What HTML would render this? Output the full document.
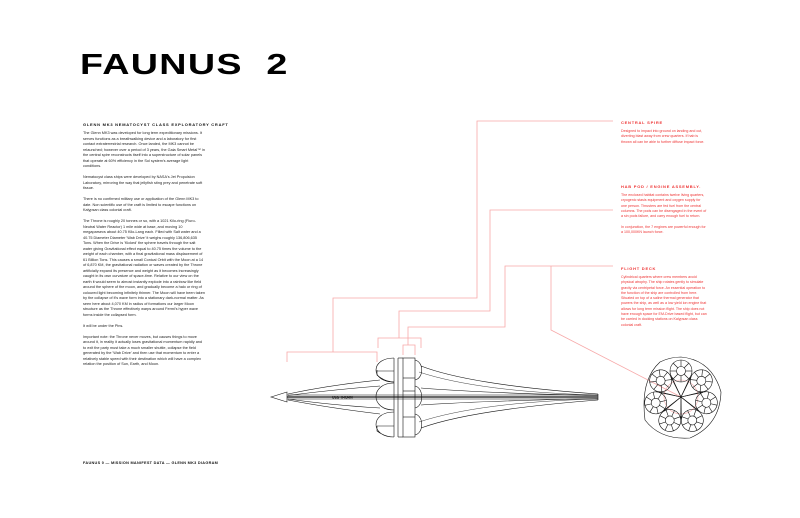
<!DOCTYPE html>
<html><head><meta charset="utf-8"><style>
*{margin:0;padding:0}
body{width:800px;height:518px;background:#fff;position:relative;overflow:hidden;font-family:"Liberation Sans",sans-serif}
.t{position:absolute;left:80px;top:49px;font-weight:bold;font-size:29px;letter-spacing:1px;transform:scaleX(1.3);transform-origin:left top;color:#000;white-space:pre}
.l{position:absolute;left:83px;width:122px;font-size:3.8px;line-height:5.5px;color:#222}
.h{position:absolute;font-size:4px;font-weight:bold;letter-spacing:0.75px;white-space:nowrap}
.r{position:absolute;left:621px;width:86px;font-size:3.6px;line-height:5.3px;color:#e33}
p{margin-bottom:5.5px}
</style></head><body>
<div class="t">FAUNUS  2</div>
<div class="h" style="left:83px;top:122px;color:#111">GLENN MK3 NEMATOCYST CLASS EXPLORATORY CRAFT</div>
<div class="l" style="top:131px">
<p>The Glenn MK3 was developed for long term expeditionary missions. It serves functions as a breathwalking device and a laboratory for first contact extraterrestrial research. Once landed, the MK3 cannot be relaunched; however over a period of 3 years, the Gaia Smart Metal™ in the central spire reconstructs itself into a superstructure of solar panels that operate at 60% efficiency in the Sol system's average light conditions.</p>
<p>Nematocyst class ships were developed by NASA's Jet Propulsion Laboratory, mirroring the way that jellyfish sting prey and penetrate soft tissue.</p>
<p>There is no confirmed military use or application of the Glenn MK3 to date. Non scientific use of the craft is limited to escape functions on Kalypsan class colonial craft.</p>
<p>The Throne is roughly 20 tonnes or so, with a 1021 Kilo-ring (Fluro-Neutral Water Reactor) 1 mile wide at base, and moving 10 megaparsecs about 40.75 Kilo-Lang each. Filled with Salt water and a 40.75 Diameter Diameter 'Wab Drive' it weighs roughly 136,806,635 Tons. When the Drive is 'Kicked' the sphere travels through the salt water giving Gravitational effect equal to 40.75 times the volume to the weight of each chamber, with a final gravitational mass displacement of 61 Billion Tons. This causes a small Conical Orbit with the Moon at a 14 of 6,870 KM, the gravitational radiation or waves created by the Throne artificially expand its presence and weight as it becomes increasingly caught in its own curvature of space-time. Relative to our view on the earth it would seem to almost instantly explode into a rainbow like field around the sphere of the moon, and gradually become a halo or ring of coloured light becoming infinitely thinner. The Moon will have been taken by the collapse of it's wave form into a stationary dark-normal matter. As seen here about 4,070 KM in radius of formations our larger Moon structure as the Throne effectively warps around Fermi's hyper wave forms inside the collapsed form.</p>
<p>It will be under the Pins.</p>
<p>Important note: the Throne never moves, but causes things to move around it, in reality it actually loses gravitational momentum rapidly and to exit the party must take a much smaller shuttle, collapse the field generated by the 'Wab Drive' and then use that momentum to enter a relatively stable speed with their destination which will have a complex relation the position of Sun, Earth, and Moon.</p>
</div>
<div class="h" style="left:83px;top:461px;font-size:3.8px;letter-spacing:0.3px;color:#111">FAUNUS 0 — MISSION MANIFEST DATA — GLENN MK3 DIAGRAM</div>

<div class="h" style="left:621px;top:120px;color:#e33">CENTRAL SPIRE</div>
<div class="r" style="top:129px">Designed to impact into ground on landing and cut, diverting blast away from crew quarters. If hab is thrown all can be able to further diffuse impact force.</div>
<div class="h" style="left:621px;top:184px;color:#e33">HAB POD / ENGINE ASSEMBLY.</div>
<div class="r" style="top:193px"><p>The enclosed habitat contains twelve living quarters, cryogenic stasis equipment and oxygen supply for one person. Thrusters are fed fuel from the central columns. The pods can be disengaged in the event of a sin pods failure, and carry enough fuel to return.</p><p>In conjunction, the 7 engines are powerful enough for a 100,000KN launch force.</p></div>
<div class="h" style="left:621px;top:266px;color:#e33">FLIGHT DECK</div>
<div class="r" style="top:275px">Cylindrical quarters where crew members avoid physical atrophy. The ship rotates gently to simulate gravity via centripetal force. An essential operation to the function of the ship are controlled from here. Situated on top of a saline thermal generator that powers the ship, as well as a low yield ion engine that allows for long term mission flight. The ship does not have enough space for EM-Drive based flight, but can be carried in docking stations on Kalypsan class colonial craft.</div>

<svg width="800" height="518" style="position:absolute;left:0;top:0" fill="none">
<g stroke="#f7a8a8" stroke-width="0.8">
<polyline points="613,121 477,121 477,298 333,298 333,352"/>
<polyline points="287,362 287,352 377,352 377,362"/>
<polyline points="613,210 490,210 490,311 399,311 399,338"/>
<polyline points="378,348 378,338 421,338 421,348"/>
<polyline points="613,266 505,266 505,327 408,327 408,345"/>
<polyline points="403,355 403,345 415,345 415,355"/>
<polyline points="551,266 551,330 681,397"/>
<circle cx="681" cy="397" r="17" stroke-width="0.6"/>
</g>
<g stroke="#111" stroke-width="0.6">
<polygon points="271,397 287,392 287,402"/>
<line x1="287" y1="395" x2="598" y2="395"/><line x1="287" y1="396.3" x2="598" y2="396.3"/>
<line x1="287" y1="397.6" x2="598" y2="397.6"/><line x1="287" y1="399" x2="598" y2="399"/>
<line x1="598" y1="394" x2="598" y2="400"/>
<path d="M394,358 C370,358 370,382 394,382 M377,371 L394,371"/>
<path d="M394,383 C370,383 370,410 394,410"/>
<path d="M394,412 C370,412 370,437 394,437 M377,426 L394,426 M377,426 L377,431 Q385,437 394,437"/>
<path d="M377,370 L377,375 Q385,382 394,382"/>
<line x1="394" y1="358" x2="394" y2="437"/><line x1="398" y1="358" x2="398" y2="437"/>
<rect x="403" y="358" width="12" height="79"/>
<line x1="403" y1="378" x2="415" y2="378"/><line x1="403" y1="391" x2="415" y2="391"/><line x1="403" y1="417" x2="415" y2="417"/>
<line x1="398" y1="358" x2="403" y2="358"/><line x1="398" y1="437" x2="403" y2="437"/>
<path d="M415,360 C424,362 424,378 415,380 M415,386 C424,388 424,406 415,408 M415,414 C424,416 424,433 415,435"/>
<path d="M380,380 Q330,385 288,394 M380,386 Q330,390 288,395.5 M380,408 Q330,405 288,399 M380,414 Q330,408 288,400"/>
<path d="M421,366 Q470,385 598,394 M421,388 Q480,393 598,395.5 M421,405 Q480,401 598,398.5 M421,428 Q470,410 598,400"/>
<path d="M419,372 Q480,392 598,395 M419,422 Q480,402 598,399" stroke-width="0.4"/>
<path d="M681,357 Q712,360 721,392 Q720,425 690,438 Q660,440 645,420 Q640,380 660,362 Q670,357 681,357"/>
<g id="p">
<circle cx="681" cy="371" r="11"/><circle cx="681" cy="371" r="4.5"/>
<line x1="681" y1="360" x2="681" y2="366.5"/><line x1="681" y1="375.5" x2="681" y2="382"/>
<line x1="670" y1="371" x2="676.5" y2="371"/><line x1="685.5" y1="371" x2="692" y2="371"/>
<line x1="673" y1="363" x2="678" y2="368"/><line x1="684" y1="374" x2="689" y2="379"/>
<line x1="689" y1="363" x2="684" y2="368"/><line x1="678" y1="374" x2="673" y2="379"/>
<line x1="681" y1="397" x2="671" y2="377"/><line x1="681" y1="397" x2="691" y2="377"/>
</g>
<use href="#p" transform="rotate(51.4 681 397)"/>
<use href="#p" transform="rotate(102.8 681 397)"/>
<use href="#p" transform="rotate(154.2 681 397)"/>
<use href="#p" transform="rotate(205.6 681 397)"/>
<use href="#p" transform="rotate(257 681 397)"/>
<use href="#p" transform="rotate(308.4 681 397)"/>
</g>
<text x="332" y="398.5" font-family="Liberation Sans" font-size="3.5" font-weight="bold" fill="#111">USS THORN</text>
</svg>
</body></html>
